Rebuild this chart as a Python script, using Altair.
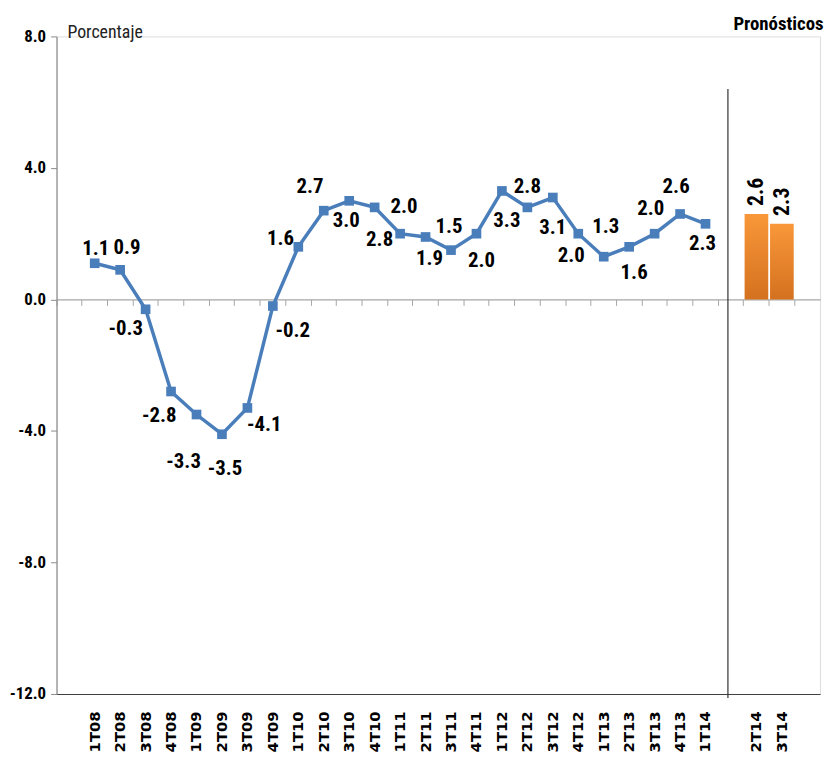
import altair as alt
import pandas as pd

# ---- data ----
LINE_CATS = ["1T08", "2T08", "3T08", "4T08", "1T09", "2T09", "3T09", "4T09",
             "1T10", "2T10", "3T10", "4T10", "1T11", "2T11", "3T11", "4T11",
             "1T12", "2T12", "3T12", "4T12", "1T13", "2T13", "3T13", "4T13", "1T14"]
LINE_VALUES = [1.1, 0.9, -0.3, -2.8, -3.5, -4.1, -3.3, -0.2,
               1.6, 2.7, 3.0, 2.8, 2.0, 1.9, 1.5, 2.0,
               3.3, 2.8, 3.1, 2.0, 1.3, 1.6, 2.0, 2.6, 2.3]
LINE_LABELS = ["1.1", "0.9", "-0.3", "-2.8", "-3.3", "-3.5", "-4.1", "-0.2",
               "1.6", "2.7", "3.0", "2.8", "2.0", "1.9", "1.5", "2.0",
               "3.3", "2.8", "3.1", "2.0", "1.3", "1.6", "2.0", "2.6", "2.3"]
BAR_CATS = ["2T14", "3T14"]
BAR_VALUES = [2.6, 2.3]
Y_TICKS = [-12, -8, -4, 0, 4, 8]

# ---- label nudges (pixels, style only) ----
LABEL_DX = [1, 7, -20, -12, -13, 3, 17, 20, -18, -14, -3, 5,
            4, 4, -2, 5, 5, 0, 0, -7, 2, 5, -4, -4, -3]
LABEL_DY = [-14, -22, 20, 25, 48, 35, 17, 25, -8, -24, 20, 33,
            -27, 22, -23, 28, 30, -21, 31, 23, -30, 26, -25, -27, 20]

DOMAIN = ["_a"] + LINE_CATS + ["_gap"] + BAR_CATS + ["_b"]

W, H = 771, 664
Y_MIN, Y_MAX = -12, 8
BAND = W / len(DOMAIN)
FONT = "Roboto Condensed, DejaVu Sans Condensed, Liberation Sans Narrow, Liberation Sans, Arial"
BLUE = "#4A7EBB"

line_df = pd.DataFrame({"cat": LINE_CATS, "value": LINE_VALUES,
                        "label": LINE_LABELS, "dx": LABEL_DX, "dy": LABEL_DY})
bar_df = pd.DataFrame({"cat": BAR_CATS, "value": BAR_VALUES,
                       "label": [f"{v:.1f}" for v in BAR_VALUES]})
sep_df = pd.DataFrame({"cat": ["_gap"]})

xscale = alt.Scale(type="band", domain=DOMAIN, paddingInner=0, paddingOuter=0)
yscale = alt.Scale(domain=[Y_MIN, Y_MAX], nice=False, zero=False)

y_axis = alt.Axis(values=Y_TICKS, title=None, grid=False,
                  labelExpr="replace(format(datum.value, '.1f'), '\u2212', '-')",
                  labelFont=FONT, labelFontSize=17, labelFontWeight="bold",
                  labelColor="black", labelPadding=5, tickSize=6,
                  tickColor="#8C8C8C", domainColor="#8C8C8C", domainWidth=1.2)

main_x_axis = alt.Axis(orient="bottom", title=None, ticks=False, grid=False,
                       labelAngle=270, labelAlign="right", labelBaseline="middle",
                       labelFont="DejaVu Sans", labelFontWeight="bold",
                       labelFontSize=15, labelColor="black", labelPadding=17,
                       domainColor="#404040", domainWidth=1.2,
                       labelExpr="indexof(datum.value, '_') == 0 ? '' : datum.value")

zero_offset = -H * (0 - Y_MIN) / (Y_MAX - Y_MIN)
zero_x_axis = alt.Axis(orient="bottom", offset=zero_offset, title=None,
                       labels=False, ticks=True, grid=False, bandPosition=0,
                       tickSize=6, tickColor="#A6A6A6", domainColor="#A6A6A6",
                       domainWidth=1.2)

X = lambda axis: alt.X("cat:N", scale=xscale, sort=DOMAIN, axis=axis)
Y = alt.Y("value:Q", scale=yscale, axis=y_axis)

line = alt.Chart(line_df).mark_line(color=BLUE, strokeWidth=3.5).encode(
    x=X(main_x_axis), y=Y)

points = alt.Chart(line_df).mark_point(shape="square", filled=True, size=95,
                                       color=BLUE, opacity=1).encode(
    x=X(None), y=Y)

labels = alt.Chart(line_df).transform_calculate(
    ly=f"datum.value - datum.dy * {(Y_MAX - Y_MIN) / H}",
    lx=f"datum.dx + {BAND / 2}",
).mark_text(font=FONT, fontSize=21, fontWeight="bold", color="black",
            baseline="middle").encode(
    x=X(None),
    y=alt.Y("ly:Q", scale=yscale, axis=y_axis),
    text="label:N",
    xOffset=alt.XOffset("lx:Q", scale=None))

bars = alt.Chart(bar_df).mark_bar(
    width=alt.RelativeBandSize(0.93),
    color=alt.Gradient(gradient="linear",
                       stops=[alt.GradientStop(color="#F9973A", offset=0),
                              alt.GradientStop(color="#D4711F", offset=1)],
                       x1=0, x2=0, y1=0, y2=1)).encode(x=X(None), y=Y)

bar_labels = alt.Chart(bar_df).mark_text(font=FONT, fontSize=22,
                                         fontWeight="bold", color="black",
                                         angle=270, align="left",
                                         baseline="middle", dx=8).encode(
    x=X(None), y=Y, text="label:N")

sep = alt.Chart(sep_df).mark_rule(color="#303030", strokeWidth=1.2).encode(
    x=alt.X("cat:N", scale=xscale, sort=DOMAIN, axis=zero_x_axis, bandPosition=0.38),
    y=alt.datum(6.4, scale=yscale, axis=y_axis),
    y2=alt.value(H + 4))

title_df = pd.DataFrame({"t": ["Porcentaje"]})
porc = alt.Chart(title_df).mark_text(font=FONT, fontSize=18, align="left",
                                     baseline="middle", color="#222222").encode(
    x=alt.value(11), y=alt.value(-3), text="t:N")
pron_df = pd.DataFrame({"t": ["Pronósticos"]})
pron = alt.Chart(pron_df).mark_text(font=FONT, fontSize=19, fontWeight="bold",
                                    align="center", baseline="middle",
                                    color="black").encode(
    x=alt.value(729), y=alt.value(-12), text="t:N")

chart = alt.layer(sep, bars, line, points, labels, bar_labels, porc, pron).resolve_axis(
    x="independent").properties(
    width=W, height=H,
    autosize=alt.AutoSizeParams(type="none"),
    padding={"left": 49, "top": 25, "right": 6, "bottom": 66},
).configure_view(stroke=None).configure(background="white")

chart.save("out.html", embed_options={"renderer": "svg", "actions": False})
